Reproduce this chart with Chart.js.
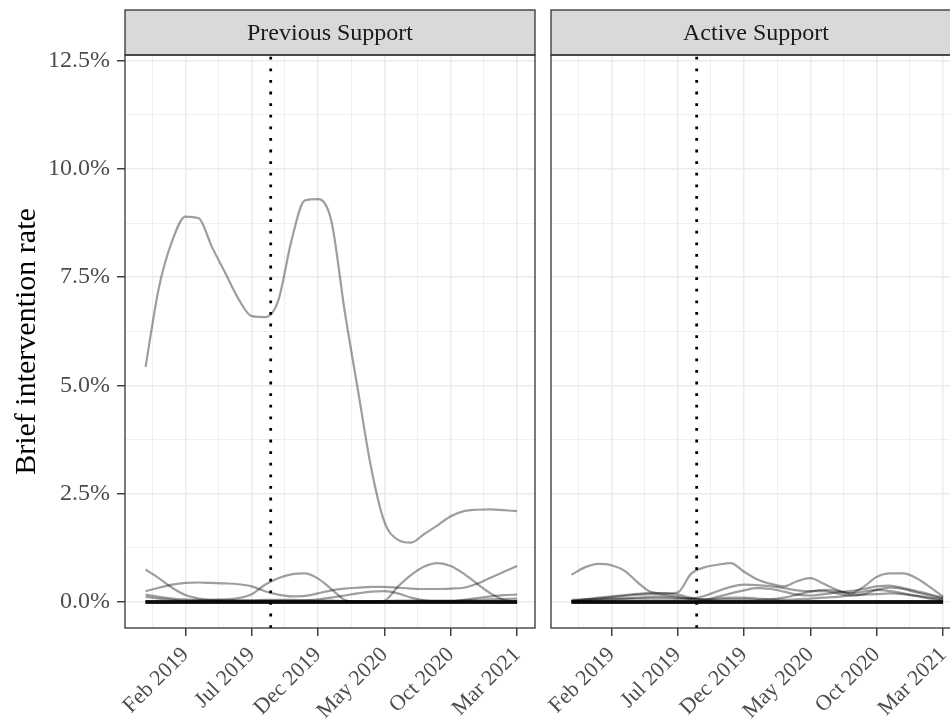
<!DOCTYPE html>
<html>
<head>
<meta charset="utf-8">
<script src="https://cdn.jsdelivr.net/npm/chart.js@4/dist/chart.umd.min.js"></script>
<style>
  html, body { margin: 0; padding: 0; background: #ffffff; overflow: hidden; }
  #wrap { position: relative; width: 950px; height: 721px; overflow: hidden; }
  #wrap canvas { position: absolute; top: 0; }
  #prev { left: 0; }
  #active { left: 440px; }
</style>
</head>
<body>
<div id="wrap">
  <canvas id="prev" width="545" height="721"></canvas>
  <canvas id="active" width="535" height="721"></canvas>
</div>
<script>
// Monthly reporting periods
const months = ['Nov 2018', 'Dec 2018', 'Jan 2019', 'Feb 2019', 'Mar 2019', 'Apr 2019',
  'May 2019', 'Jun 2019', 'Jul 2019', 'Aug 2019', 'Sep 2019', 'Oct 2019', 'Nov 2019',
  'Dec 2019', 'Jan 2020', 'Feb 2020', 'Mar 2020', 'Apr 2020', 'May 2020', 'Jun 2020',
  'Jul 2020', 'Aug 2020', 'Sep 2020', 'Oct 2020', 'Nov 2020', 'Dec 2020', 'Jan 2021',
  'Feb 2021', 'Mar 2021'];

const facetNames = ['Previous Support', 'Active Support'];
const tickLabels = ['Feb 2019', 'Jul 2019', 'Dec 2019', 'May 2020', 'Oct 2020', 'Mar 2021'];
const yTicks = [0, 2.5, 5, 7.5, 10, 12.5];
// Start of the intervention (mid-August 2019), in months after Nov 2018
const interventionMonth = 9.43;

// Brief intervention rate (%) per site, Previous Support
const prevSiteA = [5.43, 7.25, 8.33, 8.9, 8.86, 8.2, 7.6, 7.0, 6.6, 6.58, 6.96, 8.35, 9.27, 9.3, 8.8,
  6.73, 4.9, 3.1, 1.85, 1.44, 1.37, 1.57, 1.77, 1.98, 2.1, 2.13, 2.14, 2.12, 2.1];
const prevSiteB = [0.25, 0.33, 0.4, 0.44, 0.45, 0.44, 0.43, 0.41, 0.36, 0.25, 0.17, 0.13, 0.14, 0.2,
  0.27, 0.31, 0.33, 0.35, 0.35, 0.33, 0.31, 0.3, 0.3, 0.31, 0.33, 0.42, 0.56, 0.7, 0.83];
const prevSiteC = [0.17, 0.12, 0.08, 0.06, 0.05, 0.05, 0.06, 0.09, 0.18, 0.4, 0.55, 0.64, 0.66, 0.54,
  0.3, 0.05, 0, 0, 0.03, 0.35, 0.62, 0.82, 0.9, 0.83, 0.65, 0.42, 0.2, 0.05, 0];
const prevSiteD = [0.75, 0.55, 0.33, 0.16, 0.08, 0.05, 0.04, 0.04, 0.04, 0.05, 0.05, 0.05, 0.04, 0.03,
  0.03, 0.02, 0.02, 0.02, 0.02, 0.03, 0.03, 0.03, 0.03, 0.03, 0.04, 0.05, 0.06, 0.07, 0.08];
const prevSiteE = [0.12, 0.08, 0.05, 0.03, 0.03, 0.03, 0.03, 0.03, 0.03, 0.03, 0.03, 0.03, 0.04, 0.06,
  0.1, 0.15, 0.2, 0.24, 0.25, 0.2, 0.1, 0.04, 0.02, 0.02, 0.05, 0.09, 0.13, 0.16, 0.17];

// Brief intervention rate (%) per site, Active Support
const activeSiteA = [0.63, 0.8, 0.88, 0.85, 0.72, 0.45, 0.23, 0.2, 0.22, 0.65, 0.8, 0.86, 0.9, 0.7,
  0.52, 0.42, 0.36, 0.48, 0.55, 0.42, 0.28, 0.2, 0.35, 0.58, 0.66, 0.66, 0.55, 0.35, 0.12];
const activeSiteB = [0.02, 0.06, 0.1, 0.13, 0.16, 0.19, 0.21, 0.2, 0.17, 0.1, 0.06, 0.12, 0.2, 0.27,
  0.32, 0.3, 0.24, 0.17, 0.15, 0.18, 0.22, 0.25, 0.3, 0.36, 0.38, 0.32, 0.25, 0.18, 0.1];
const activeSiteC = [0.05, 0.06, 0.07, 0.08, 0.08, 0.08, 0.08, 0.08, 0.07, 0.08, 0.14, 0.25, 0.35, 0.4,
  0.39, 0.36, 0.32, 0.27, 0.25, 0.25, 0.2, 0.15, 0.18, 0.28, 0.33, 0.3, 0.22, 0.15, 0.08];
const activeSiteD = [0.03, 0.05, 0.08, 0.11, 0.14, 0.17, 0.18, 0.16, 0.12, 0.07, 0.05, 0.05, 0.06, 0.06,
  0.05, 0.06, 0.1, 0.17, 0.24, 0.28, 0.25, 0.2, 0.24, 0.28, 0.25, 0.2, 0.14, 0.08, 0.04];
const activeSiteE = [0, 0.02, 0.04, 0.06, 0.08, 0.1, 0.12, 0.12, 0.1, 0.08, 0.06, 0.08, 0.1, 0.1,
  0.08, 0.06, 0.05, 0.06, 0.08, 0.1, 0.12, 0.15, 0.17, 0.18, 0.2, 0.18, 0.14, 0.1, 0.06];

// Sites that recorded no brief interventions in any month
const noActivity = [0, 0, 0, 0, 0, 0, 0, 0, 0, 0, 0, 0, 0, 0, 0, 0, 0, 0, 0, 0, 0, 0, 0, 0, 0, 0, 0, 0, 0];
const prevSites = [prevSiteA, prevSiteB, prevSiteC, prevSiteD, prevSiteE];
const activeSites = [activeSiteA, activeSiteB, activeSiteC, activeSiteD, activeSiteE];
const idleSiteCount = 6;

const X_MIN = -1.55, X_MAX = 29.35;
const Y_MIN = -0.6, Y_MAX = 12.63;
const SERIF = '"Liberation Serif", "Times New Roman", serif';
const LINE = 'rgba(0,0,0,0.38)';
const AXIS_TEXT = '#4d4d4d';
const FRAME = '#333333';

const majorX = tickLabels.map(l => months.indexOf(l));
const minorX = majorX.slice(0, -1).map((v, i) => (v + majorX[i + 1]) / 2);
minorX.unshift(majorX[0] - (majorX[1] - majorX[0]) / 2);
const minorY = yTicks.slice(0, -1).map((v, i) => (v + yTicks[i + 1]) / 2);

const isMajorX = v => majorX.includes(v);
const isMajorY = v => yTicks.includes(v);

// Facet strip above the panel and the panel frame
const facetFrame = {
  id: 'facetFrame',
  afterDraw(chart, args, opts) {
    const { ctx, chartArea: a } = chart;
    ctx.save();
    ctx.fillStyle = '#d9d9d9';
    ctx.fillRect(a.left, opts.stripTop, a.right - a.left, a.top - opts.stripTop);
    ctx.strokeStyle = FRAME;
    ctx.lineWidth = 1.3;
    ctx.strokeRect(a.left, opts.stripTop, a.right - a.left, a.top - opts.stripTop);
    ctx.strokeRect(a.left, a.top, a.right - a.left, a.bottom - a.top);
    ctx.fillStyle = '#1a1a1a';
    ctx.font = '24px ' + SERIF;
    ctx.textAlign = 'center';
    ctx.textBaseline = 'middle';
    ctx.fillText(opts.label, (a.left + a.right) / 2, (opts.stripTop + a.top) / 2 + 1);
    ctx.restore();
  }
};

function siteDataset(values, width) {
  return {
    data: values.map((v, i) => ({ x: i, y: v })),
    borderColor: LINE,
    borderWidth: width,
    pointRadius: 0,
    fill: false,
    cubicInterpolationMode: 'monotone'
  };
}

function buildChart(canvasId, label, sites, withYAxis, padding) {
  const datasets = [{
    data: [{ x: interventionMonth, y: Y_MIN }, { x: interventionMonth, y: Y_MAX }],
    borderColor: '#000000',
    borderWidth: 2.8,
    borderDash: [2.8, 8.8],
    borderCapStyle: 'butt',
    pointRadius: 0,
    fill: false
  }];
  sites.forEach(s => datasets.push(siteDataset(s, 2.2)));
  for (let k = 0; k < idleSiteCount; k++) datasets.push(siteDataset(noActivity, 3.6));

  return new Chart(document.getElementById(canvasId), {
    type: 'line',
    data: { datasets },
    plugins: [facetFrame],
    options: {
      responsive: false,
      animation: false,
      events: [],
      devicePixelRatio: 1,
      layout: { padding },
      plugins: {
        legend: { display: false },
        tooltip: { enabled: false },
        facetFrame: { label, stripTop: 10 }
      },
      scales: {
        x: {
          type: 'linear',
          min: X_MIN,
          max: X_MAX,
          afterBuildTicks: scale => {
            scale.ticks = majorX.concat(minorX).sort((a, b) => a - b).map(v => ({ value: v }));
          },
          afterFit: scale => {
            scale.height = 93;
            scale.paddingLeft = 0;
            scale.paddingRight = 0;
          },
          border: { display: false },
          grid: {
            color: '#ebebeb',
            lineWidth: c => (c.tick && isMajorX(c.tick.value)) ? 1.5 : 0.8,
            tickColor: c => (c.tick && isMajorX(c.tick.value)) ? FRAME : 'rgba(0,0,0,0)',
            tickWidth: 1.4,
            tickLength: 8,
            drawTicks: true
          },
          ticks: {
            autoSkip: false,
            minRotation: 45,
            maxRotation: 45,
            padding: 6,
            color: AXIS_TEXT,
            font: { family: SERIF, size: 22 },
            callback: v => {
              const i = majorX.indexOf(v);
              return i >= 0 ? tickLabels[i] : '';
            }
          }
        },
        y: {
          type: 'linear',
          min: Y_MIN,
          max: Y_MAX,
          afterBuildTicks: scale => {
            scale.ticks = yTicks.concat(minorY).sort((a, b) => a - b).map(v => ({ value: v }));
          },
          afterFit: scale => { scale.width = withYAxis ? 125 : 0; },
          border: { display: false },
          grid: {
            color: '#ebebeb',
            lineWidth: c => (c.tick && isMajorY(c.tick.value)) ? 1.5 : 0.8,
            tickColor: c => (c.tick && isMajorY(c.tick.value)) ? FRAME : 'rgba(0,0,0,0)',
            tickWidth: 1.4,
            tickLength: 8,
            drawTicks: withYAxis
          },
          ticks: {
            display: withYAxis,
            padding: 7,
            color: AXIS_TEXT,
            font: { family: SERIF, size: 24 },
            callback: v => isMajorY(v) ? v.toFixed(1) + '%' : ''
          },
          title: {
            display: withYAxis,
            text: 'Brief intervention rate',
            color: '#000000',
            font: { family: SERIF, size: 30 },
            padding: { top: 9, bottom: 0 }
          }
        }
      }
    }
  });
}

buildChart('prev', facetNames[0], prevSites, true, { top: 55, left: 0, right: 10, bottom: 0 });
buildChart('active', facetNames[1], activeSites, false, { top: 55, left: 111, right: 14, bottom: 0 });
</script>
</body>
</html>
